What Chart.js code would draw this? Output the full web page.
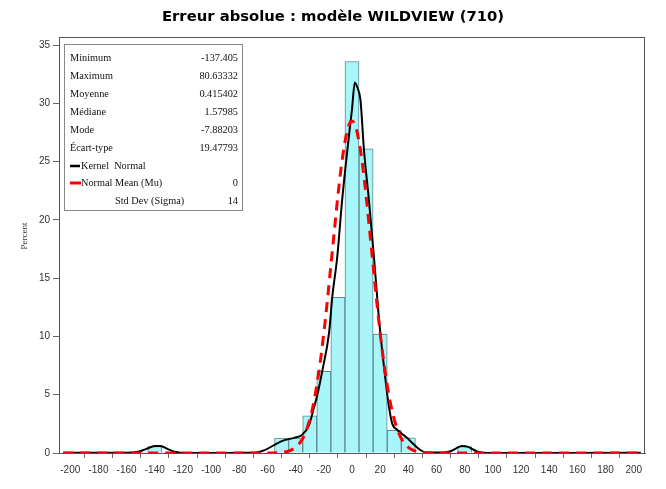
<!DOCTYPE html>
<html><head><meta charset="utf-8">
<script src="https://cdn.jsdelivr.net/npm/chart.js@4/dist/chart.umd.min.js"></script>
<style>html,body{margin:0;padding:0;background:#fff}#wrap{width:666px;height:489px;position:relative}</style>
</head><body><div id="wrap"><canvas id="c" width="666" height="489"></canvas></div>
<script>
const chartTitle = 'Erreur absolue : modèle WILDVIEW (710)';
const yTitle = 'Percent';
const binCenters = [-140, -50, -40, -30, -20, -10, 0, 10, 20, 30, 40, 80];
const binPercents = [0.56, 1.27, 1.27, 3.2, 7.0, 13.35, 33.6, 26.1, 10.2, 1.95, 1.3, 0.56];
const kernelX = [-205, -160, -152, -146, -140, -136, -131, -125, -118, -100, -80, -68, -62, -55, -48, -41, -35.5, -30.5, -27, -24.6, -21, -16.3, -14, -10.5, -7, -3.3, 0, 2, 4, 6, 8.5, 12, 15.6, 19, 22.7, 26.2, 28.6, 32, 35, 39, 42, 45, 48, 51, 56, 65, 70, 74, 78, 82, 86, 90, 96, 110, 200, 205];
const kernelY = [0.02, 0.02, 0.1, 0.35, 0.6, 0.6, 0.35, 0.08, 0.0, 0.0, 0.02, 0.05, 0.25, 0.7, 1.1, 1.3, 1.55, 2.4, 3.9, 5.0, 7.1, 10.3, 13.4, 16.8, 21.7, 26, 29.5, 31.8, 31.3, 30.3, 26, 21.7, 16.8, 11.7, 7.4, 4.0, 2.5, 2.0, 1.7, 1.3, 0.95, 0.6, 0.3, 0.1, 0.04, 0.05, 0.15, 0.4, 0.6, 0.55, 0.3, 0.08, 0.0, 0.0, 0.02, 0.02];
const normalX = [-205, -60, -50, -45, -42.5, -40, -37.5, -35, -32.5, -30, -27.5, -25, -22.5, -20, -17.5, -15, -12.5, -10, -7.5, -5, -2.5, 0, 2.5, 5, 7.5, 10, 12.5, 15, 17.5, 20, 22.5, 25, 27.5, 30, 32.5, 35, 37.5, 40, 42.5, 45, 50, 60, 205];
const normalY = [0, 0, 0.05, 0.16, 0.29, 0.48, 0.79, 1.25, 1.93, 2.87, 4.14, 5.8, 7.84, 10.3, 13.05, 16.1, 19.1, 22.1, 24.7, 26.7, 28.05, 28.5, 28.05, 26.7, 24.7, 22.1, 19.1, 16.1, 13.05, 10.3, 7.84, 5.8, 4.14, 2.87, 1.93, 1.25, 0.79, 0.48, 0.29, 0.16, 0.05, 0, 0];
const statLabels = ['Minimum', 'Maximum', 'Moyenne', 'Médiane', 'Mode', 'Écart-type'];
const statValues = ['-137.405', '80.63332', '0.415402', '1.57985', '-7.88203', '19.47793'];
const kernelLabel = 'Kernel  Normal';
const normalLabel = 'Normal Mean (Mu)';
const normalMu = '0';
const sigmaLabel = 'Std Dev (Sigma)';
const normalSigma = '14';

const decor = {
  id: 'decor',
  afterDraw(chart) {
    const ctx = chart.ctx, a = chart.chartArea;
    ctx.save();
    // frame
    ctx.strokeStyle = '#555';
    ctx.lineWidth = 1;
    ctx.strokeRect(a.left + 0.5, a.top + 0.5, a.right - a.left - 1, a.bottom - a.top);
    // title
    ctx.fillStyle = '#000';
    ctx.font = 'bold 14.8px "DejaVu Sans"';
    ctx.textAlign = 'center';
    ctx.textBaseline = 'middle';
    ctx.fillText(chartTitle, 333, 17);
    // y title
    ctx.save();
    ctx.translate(25, 236);
    ctx.rotate(-Math.PI / 2);
    ctx.font = '9px "Liberation Serif"';
    ctx.fillStyle = '#333';
    ctx.fillText(yTitle, 0, 0);
    ctx.restore();
    // inset box
    const bx = 64.5, by = 44.5, bw = 178, bh = 166;
    ctx.fillStyle = '#fff';
    ctx.fillRect(bx, by, bw, bh);
    ctx.strokeStyle = '#888';
    ctx.strokeRect(bx, by, bw, bh);
    ctx.font = '10.3px "Liberation Serif"';
    ctx.fillStyle = '#111';
    ctx.textBaseline = 'middle';
    const rows = [58, 76, 94, 112, 130, 148, 166, 183, 201];
    const vx = 238;
    statLabels.forEach((l, i) => {
      ctx.textAlign = 'left';
      ctx.fillText(l, 70, rows[i]);
      ctx.textAlign = 'right';
      ctx.fillText(statValues[i], vx, rows[i]);
    });
    ctx.lineWidth = 2.5;
    ctx.strokeStyle = '#000';
    ctx.beginPath(); ctx.moveTo(70, rows[6]); ctx.lineTo(80, rows[6]); ctx.stroke();
    ctx.strokeStyle = '#ff0000';
    ctx.lineWidth = 3;
    ctx.beginPath(); ctx.moveTo(70, rows[7]); ctx.lineTo(81, rows[7]); ctx.stroke();
    ctx.textAlign = 'left';
    ctx.fillText(kernelLabel, 81, rows[6]);
    ctx.fillText(normalLabel, 81, rows[7]);
    ctx.fillText(sigmaLabel, 115, rows[8]);
    ctx.textAlign = 'right';
    ctx.fillText(normalMu, vx, rows[7]);
    ctx.fillText(normalSigma, vx, rows[8]);
    ctx.restore();
  }
};

new Chart(document.getElementById('c'), {
  type: 'bar',
  data: {
    datasets: [
      {
        type: 'line',
        data: normalX.map((x, i) => ({ x, y: normalY[i] })),
        borderColor: '#ff0000',
        borderWidth: 3,
        borderDash: [10, 7],
        pointRadius: 0,
        fill: false,
        cubicInterpolationMode: 'monotone',
        order: 0
      },
      {
        type: 'line',
        data: kernelX.map((x, i) => ({ x, y: kernelY[i] })),
        borderColor: '#000',
        borderWidth: 2,
        pointRadius: 0,
        fill: false,
        cubicInterpolationMode: 'monotone',
        order: 1
      },
      {
        type: 'bar',
        data: binCenters.map((x, i) => ({ x, y: binPercents[i] })),
        backgroundColor: '#a8f6f9',
        borderColor: '#5f8590',
        borderWidth: 1,
        barPercentage: 1,
        categoryPercentage: 1,
        grouped: false,
        order: 2
      }
    ]
  },
  options: {
    responsive: false,
    animation: false,
    devicePixelRatio: 1,
    layout: { padding: { top: 37, right: 21, left: 0, bottom: 0 } },
    plugins: { legend: { display: false }, title: { display: false }, tooltip: { enabled: false } },
    scales: {
      x: {
        type: 'linear', min: -208, max: 208, offset: false,
        ticks: { stepSize: 20, includeBounds: false, autoSkip: false, maxRotation: 0, minRotation: 0,
          font: { family: 'Liberation Sans', size: 10 }, color: '#333', padding: 6 },
        grid: { drawOnChartArea: false, drawTicks: true, tickLength: 5, color: '#666' },
        border: { color: '#555' },
        afterFit(s) { s.height = 36; }
      },
      y: {
        min: 0, max: 35.7,
        ticks: { stepSize: 5, includeBounds: false, font: { family: 'Liberation Sans', size: 10 }, color: '#333', padding: 3 },
        grid: { drawOnChartArea: false, drawTicks: true, tickLength: 6, color: '#666' },
        border: { color: '#555' },
        afterFit(s) { s.width = 59; }
      }
    }
  },
  plugins: [decor]
});
</script></body></html>
